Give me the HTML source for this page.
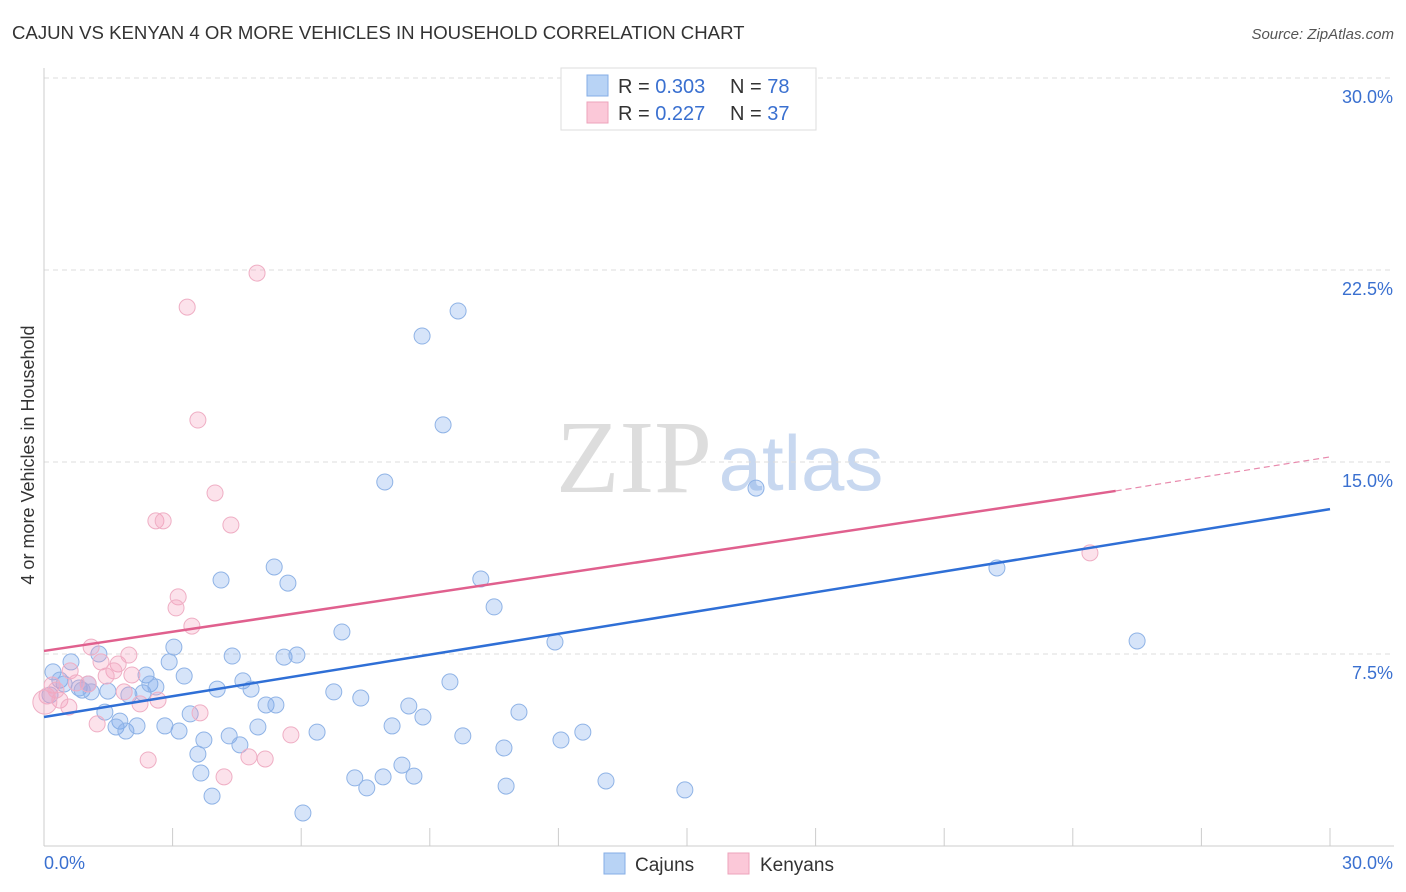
<!DOCTYPE html>
<html><head><meta charset="utf-8"><style>
body{margin:0;background:#fff;font-family:"Liberation Sans",sans-serif;}
svg{display:block}
</style></head><body>
<svg id="chart" width="1406" height="892">
<text x="12" y="39" font-size="18.6" fill="#333">CAJUN VS KENYAN 4 OR MORE VEHICLES IN HOUSEHOLD CORRELATION CHART</text>
<text x="1394" y="39" font-size="15" fill="#555" text-anchor="end" font-style="italic">Source: ZipAtlas.com</text>
<text x="34" y="455" font-size="18" fill="#333" text-anchor="middle" transform="rotate(-90 34 455)">4 or more Vehicles in Household</text>
<g><text x="634" y="492" font-size="104" fill="#ddd" font-family="Liberation Serif,serif" text-anchor="middle">ZIP</text><text x="801" y="490" font-size="78" fill="#c8d8f0" text-anchor="middle">atlas</text></g>
<g id="grid"></g><g id="marks"></g>
<g>
<rect x="561" y="68" width="255" height="62" fill="#fff" stroke="#ddd"/>
<rect x="587" y="75" width="21" height="21" fill="#b8d3f5" stroke="#85aee6"/>
<rect x="587" y="102" width="21" height="21" fill="#fbc8d8" stroke="#eea3bb"/>
<text x="618" y="93" font-size="20" fill="#333">R = <tspan fill="#3a70d0">0.303</tspan></text>
<text x="730" y="93" font-size="20" fill="#333">N = <tspan fill="#3a70d0">78</tspan></text>
<text x="618" y="120" font-size="20" fill="#333">R = <tspan fill="#3a70d0"> 0.227</tspan></text>
<text x="730" y="120" font-size="20" fill="#333">N = <tspan fill="#3a70d0">37</tspan></text>
</g>
<g>
<rect x="604" y="853" width="21" height="21" fill="#b8d3f5" stroke="#85aee6"/><text x="635" y="871" font-size="19" fill="#333">Cajuns</text>
<rect x="728" y="853" width="21" height="21" fill="#fbc8d8" stroke="#eea3bb"/><text x="760" y="871" font-size="19" fill="#333">Kenyans</text>
</g>
</svg>
<script>
const yTicks=[7.5,15,22.5,30];
const yTickLabels=["7.5%","15.0%","22.5%","30.0%"];
const cajunX=[17.63,9.66,8.82,9.31,7.95,16.61,22.23,25.5,5.37,5.69,4.13,10.19,10.5,6.95,11.92,3.03,4.39,5.6,5.9,2.92,2.38,3.27,1.28,0.63,0.21,0.37,0.47,0.82,1.03,0.89,1.1,1.49,1.98,2.31,2.47,2.61,4.04,4.64,4.83,6.76,7.39,9.47,5.18,5.41,8.51,8.84,11.08,1.42,1.77,1.68,1.91,2.17,2.82,3.15,3.41,4.99,6.37,8.12,9.77,10.73,12.06,12.57,3.73,4.32,4.57,3.59,3.66,3.92,6.04,7.25,7.53,7.91,8.35,8.63,10.78,13.11,14.95,0.14];
const cajunY=[29.8,20.9,19.92,16.45,14.22,13.98,10.86,8.01,10.9,10.27,10.39,10.43,9.34,8.36,7.97,7.77,7.42,7.38,7.46,7.19,6.68,6.64,7.5,7.19,6.8,6.48,6.33,6.17,6.33,6.09,6.02,6.05,5.9,5.98,6.33,6.21,6.13,6.45,6.13,6.02,5.78,6.41,5.51,5.51,5.47,5.04,5.23,5.23,4.88,4.65,4.49,4.69,4.69,4.49,5.16,4.65,4.45,4.69,4.3,3.83,4.14,4.45,4.14,4.3,3.95,3.59,2.85,1.95,1.29,2.66,2.27,2.7,3.16,2.73,2.34,2.54,2.19,5.9];
const kenyanX=[4.97,3.34,3.59,3.99,4.36,2.61,2.78,24.4,3.13,3.08,3.45,1.1,1.33,1.73,1.98,1.63,1.45,2.05,0.61,1.03,0.19,0.07,0.37,1.87,2.24,2.66,3.64,1.24,0.58,5.76,2.43,4.2,4.78,5.16,0.28,0.75,0.02];
const kenyanY=[22.38,21.05,16.64,13.79,12.54,12.7,12.7,11.45,9.73,9.3,8.59,7.77,7.19,7.11,7.46,6.84,6.64,6.68,6.84,6.33,6.29,5.86,5.7,6.02,5.55,5.7,5.2,4.77,5.43,4.34,3.36,2.7,3.48,3.4,6.09,6.37,5.62];
const cajunLine=[5.04,13.16];
const kenyanLine=[7.62,13.87,15.2];
const X=v=>44+v*(1286/30), Y=v=>846-v*25.6;
const NS="http://www.w3.org/2000/svg";
function mk(t,a,p){const e=document.createElementNS(NS,t);for(const k in a)e.setAttribute(k,a[k]);p.appendChild(e);return e;}
const g=document.getElementById('grid'), m=document.getElementById('marks');
yTicks.forEach((t,i)=>{
 const l=mk('line',{x1:44,x2:1394,y1:Y(t),y2:Y(t),stroke:'#ddd','stroke-dasharray':'5,4'},g);
 
 
 const tx=mk('text',{x:1393,y:Y(t)+25,'font-size':18,fill:'#3a70d0','text-anchor':'end'},g);tx.textContent=yTickLabels[i];
 
 
});
mk('line',{x1:44,x2:44,y1:68,y2:846,stroke:'#ccc'},g);
mk('line',{x1:44,x2:1394,y1:846,y2:846,stroke:'#ccc'},g);
for(let i=1;i<=10;i++){const t=mk('line',{x1:X(i*3),x2:X(i*3),y1:828,y2:846,stroke:'#ccc'},g);}
const x0=mk('text',{x:44,y:869,'font-size':18,fill:'#3a70d0'},g);x0.textContent='0.0%';


const x1=mk('text',{x:1393,y:869,'font-size':18,fill:'#3a70d0','text-anchor':'end'},g);x1.textContent='30.0%';


cajunX.forEach((v,i)=>{const c=mk('circle',{cx:X(v),cy:Y(cajunY[i]),r:8,fill:'rgba(120,165,235,0.3)',stroke:'#8fb3e6','stroke-width':1},m);
 
 });
kenyanX.forEach((v,i)=>{const c=mk('circle',{cx:X(v),cy:Y(kenyanY[i]),r:i==kenyanX.length-1?12:8,fill:'rgba(245,160,190,0.3)',stroke:'#efaec4','stroke-width':1},m);
 
 });
const bl=mk('line',{x1:X(0),y1:Y(cajunLine[0]),x2:X(30),y2:Y(cajunLine[1]),stroke:'#2f6fd6','stroke-width':2.5},m);


const pl=mk('line',{x1:X(0),y1:Y(kenyanLine[0]),x2:X(25),y2:Y(kenyanLine[1]),stroke:'#e0608e','stroke-width':2.5},m);


const pd=mk('line',{x1:X(25),y1:Y(kenyanLine[1]),x2:X(30),y2:Y(kenyanLine[2]),stroke:'#e88aad','stroke-width':1.2,'stroke-dasharray':'6,4'},m);


</script>
</body></html>
